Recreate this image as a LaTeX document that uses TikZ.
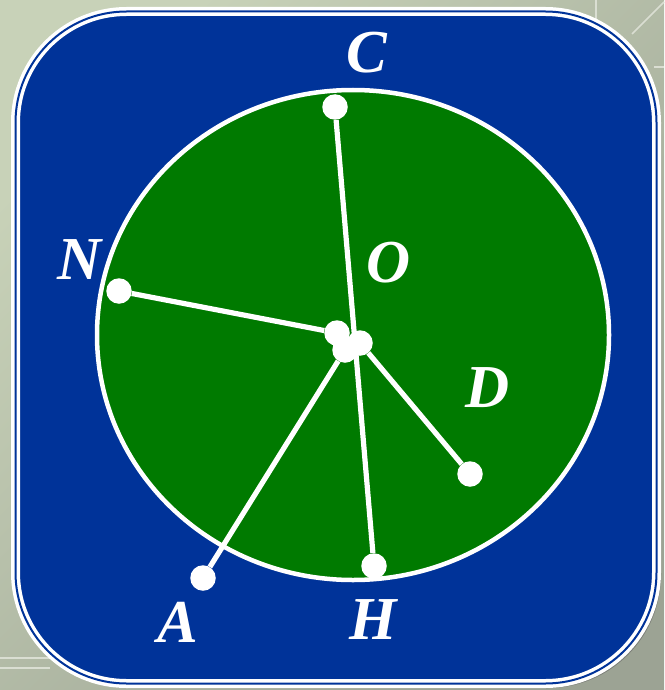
\documentclass[tikz,border=0pt]{standalone}
\usepackage{fontspec}
\setmainfont{Liberation Serif}
\definecolor{bgA}{RGB}{200,210,184}
\definecolor{bgD}{RGB}{156,163,148}
\definecolor{bgLine}{RGB}{218,222,210}
\definecolor{panelblue}{RGB}{0,51,153}
\definecolor{diskgreen}{RGB}{0,122,0}
\begin{document}
\begin{tikzpicture}[x=1pt,y=-1pt,
  dot/.style={circle,fill=white,inner sep=0pt,minimum size=25.5pt},
  lab/.style={text=white,inner sep=0pt,font=\fontsize{61}{61}\selectfont\bfseries\itshape},
  spoke/.style={white,line width=5.2pt},
  faint/.style={bgLine,line width=1.5pt}]
\useasboundingbox (0,0) rectangle (664,690);
% background
\shade[top color=bgA,bottom color=bgD,shading angle=45] (0,0) rectangle (664,690);
\draw[faint] (596,0) -- (596,25);
\draw[faint] (664,2) -- (632,34);
\draw[faint] (654,67) -- (664,67);
\draw[faint] (0,658) -- (50,658);
\draw[faint] (0,668) -- (50,668);
% panel shadow
\draw[gray!70!black,opacity=0.5,line width=4pt,rounded corners=111pt] (17.5,13.5) rectangle (659,686);
% panel
\fill[panelblue,rounded corners=111pt] (15.5,11.5) rectangle (656.5,683.5);
\draw[white,line width=3.5pt,double=panelblue,double distance=2pt,rounded corners=111pt] (15.5,11.5) rectangle (656.5,683.5);
% disk
\draw[white,line width=4.5pt,fill=diskgreen] (353,335) ellipse [x radius=256,y radius=245];
% points
\node[dot] (C) at (335,107) {};
\node[dot] (N) at (119,291) {};
\node[dot] (A) at (203,578) {};
\node[dot] (H) at (374,566) {};
\node[dot] (D) at (470,474) {};
\node[dot] (O1) at (337,333) {};
\node[dot] (O2) at (360,343) {};
\node[dot] (O3) at (345,350) {};
% spokes
\draw[spoke] (C) -- (H);
\draw[spoke] (N) -- (O1);
\draw[spoke] (A) -- (O3);
\draw[spoke] (D) -- (O2);
% labels
\node[lab] (lC) at (367,53) {C};
\node[lab] (lN) at (80,260) {N};
\node[lab] (lO) at (389,263) {O};
\node[lab] (lD) at (488,388) {D};
\node[lab] (lA) at (178,622) {A};
\node[lab] (lH) at (373,620) {H};
\end{tikzpicture}
\end{document}
